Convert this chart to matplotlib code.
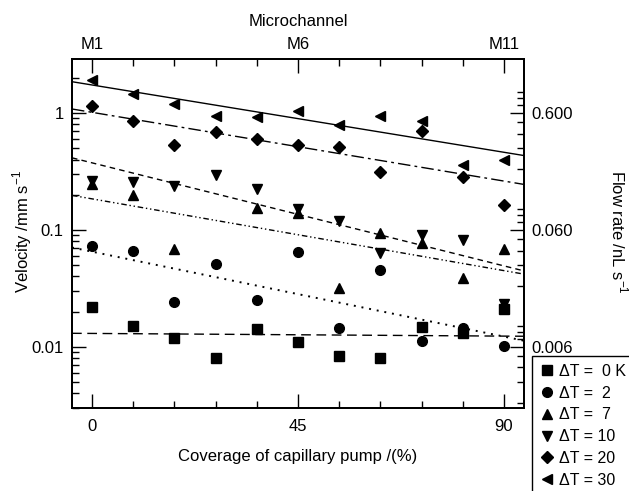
import numpy as np
import matplotlib
matplotlib.use("Agg")
import matplotlib.pyplot as plt
from matplotlib.ticker import FixedLocator, FixedFormatter, LogLocator, NullFormatter

plt.rcParams['font.family'] = ['Liberation Sans', 'DejaVu Sans']
plt.rcParams['mathtext.fontset'] = 'custom'
plt.rcParams['mathtext.rm'] = 'Liberation Sans'
plt.rcParams['font.size'] = 12

# daten
coverage = [0, 9, 18, 27, 36, 45, 54, 63, 72, 81, 90]
v_dt0 = [0.0218, 0.0152, 0.0118, 0.0080, 0.0142, 0.0109, 0.0083, 0.0081, 0.0147, 0.0131, 0.021]
v_dt2 = [0.073, 0.066, 0.0243, 0.0509, 0.0253, 0.0649, 0.0144, 0.0456, 0.0112, 0.0144, 0.0101]
v_dt7 = [0.245, 0.201, 0.0693, np.nan, 0.155, 0.141, 0.0316, 0.0936, 0.078, 0.0385, 0.069]
v_dt10 = [0.260, 0.256, 0.237, 0.298, 0.226, 0.150, 0.119, 0.064, 0.090, 0.082, 0.0232]
v_dt20 = [1.14, 0.850, 0.530, 0.690, 0.601, 0.537, 0.514, 0.315, 0.708, 0.285, 0.163]
v_dt30 = [1.93, 1.455, 1.196, 0.937, 0.919, 1.034, 0.785, 0.950, 0.861, 0.363, 0.393]

# Fitgeraden: Wert bei 0 % und bei 90 %
fit_at_0 = [0.01303, 0.0652, 0.1845, 0.375, 1.014, 1.738]
fit_at_90 = [0.01236, 0.01225, 0.0449, 0.0493, 0.262, 0.462]

labels = ['ΔT =  0 K', 'ΔT =  2', 'ΔT =  7', 'ΔT = 10', 'ΔT = 20', 'ΔT = 30']
markers = ['s', 'o', '^', 'v', 'D', '<']
msizes = [6.5, 7, 7.5, 7.5, 6, 7.5]
linestyles = [(0, (7, 4)), (0, (1, 3)), (0, (4, 2, 1, 2, 1, 2)), (0, (4, 3)), (0, (9, 3, 2, 3)), '-']
linewidths = [1.0, 1.4, 1.0, 1.0, 1.0, 1.0]

channel_pos = [0, 45, 90]
channel_labels = ['M1', 'M6', 'M11']

series = [v_dt0, v_dt2, v_dt7, v_dt10, v_dt20, v_dt30]

fig = plt.figure(figsize=(6.29, 4.91), dpi=100)
ax = fig.add_axes([72/629, 1-408/491, 452/629, 349/491])

xlim = (-4.4, 94.4)
ylim = (0.003, 2.9)
flow_factor = 0.6

handles = []
for vals, lab, m, ms in zip(series, labels, markers, msizes):
    h, = ax.plot(coverage, vals, ls='none', marker=m, ms=ms, color='black', label=lab)
    handles.append(h)

# Fitlinien ueber die ganze Breite (linear in log)
xx = np.array(xlim)
for a0, a90, ls, lw in zip(fit_at_0, fit_at_90, linestyles, linewidths):
    slope = (np.log10(a90) - np.log10(a0)) / 90.0
    ax.plot(xx, 10 ** (np.log10(a0) + slope * xx), color='black', lw=lw, ls=ls)

ax.set_yscale('log')
ax.set_xlim(*xlim)
ax.set_ylim(*ylim)

ax.xaxis.set_major_locator(FixedLocator([0, 45, 90]))
ax.xaxis.set_minor_locator(FixedLocator(coverage))
ax.yaxis.set_major_locator(FixedLocator([0.01, 0.1, 1]))
ax.yaxis.set_major_formatter(FixedFormatter(['0.01', '0.1', '1']))
ax.yaxis.set_minor_locator(LogLocator(base=10, subs=np.arange(2, 10)))
ax.yaxis.set_minor_formatter(NullFormatter())

# oben: Mikrokanaele
axt = ax.twiny()
axt.set_xlim(*xlim)
axt.xaxis.set_major_locator(FixedLocator(channel_pos))
axt.xaxis.set_major_formatter(FixedFormatter(channel_labels))
axt.xaxis.set_minor_locator(FixedLocator(coverage))

# rechts: Flussrate
axr = ax.twinx()
axr.set_yscale('log')
axr.set_ylim(ylim[0] * flow_factor, ylim[1] * flow_factor)
axr.yaxis.set_major_locator(FixedLocator([0.006, 0.06, 0.6]))
axr.yaxis.set_major_formatter(FixedFormatter(['0.006', '0.060', '0.600']))
axr.yaxis.set_minor_locator(LogLocator(base=10, subs=np.arange(2, 10)))
axr.yaxis.set_minor_formatter(NullFormatter())

for a in (ax, axt, axr):
    a.tick_params(which='major', direction='in', length=10, width=1.0, pad=7, labelsize=12)
    a.tick_params(which='minor', direction='in', length=5, width=1.0)
    for s in a.spines.values():
        s.set_linewidth(1.2)
ax.tick_params(axis='y', which='both', right=False, pad=6)
ax.tick_params(axis='x', which='both', top=False, pad=8)
axt.tick_params(axis='x', pad=5)
axr.tick_params(axis='y', pad=5)

fig.text(298/629, 1-457/491, 'Coverage of capillary pump /(%)', ha='center', va='center', fontsize=12)
fig.text(298/629, 1-22/491, 'Microchannel', ha='center', va='center', fontsize=12)
fig.text(22/629, 1-232/491, 'Velocity /mm s$^{-1}$', ha='center', va='center', rotation=90, fontsize=12)
fig.text(619/629, 1-232/491, 'Flow rate /nL s$^{-1}$', ha='center', va='center', rotation=-90, fontsize=12)

# Legende ragt unten und rechts ueber den Rand hinaus
leg = fig.legend(handles=handles, loc='upper left', bbox_to_anchor=(532/629, 1-356/491),
                 fancybox=False, framealpha=1, edgecolor='black', fontsize=11.5,
                 borderpad=0.5, handlelength=0.85, handletextpad=0.35, labelspacing=0.42,
                 borderaxespad=0, numpoints=1)
leg.get_frame().set_linewidth(1.0)

fig.savefig('out.png', dpi=100)
